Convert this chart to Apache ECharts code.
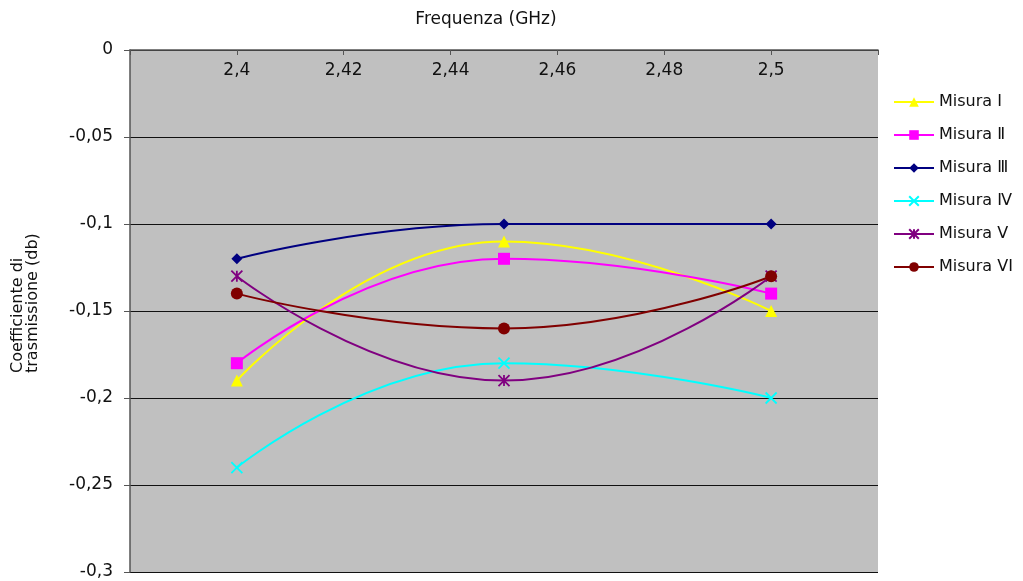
<!DOCTYPE html>
<html>
<head>
<meta charset="utf-8">
<script src="https://cdn.jsdelivr.net/npm/echarts@6/dist/echarts.min.js"></script>
<style>html,body{margin:0;padding:0;background:#fff;}#c{width:1023px;height:581px;}</style>
</head>
<body>
<div id="c"></div>
<script>
const freq = [2.4, 2.45, 2.5];
const seriesNames = ['Misura I', 'Misura Ⅱ', 'Misura Ⅲ', 'Misura Ⅳ', 'Misura V', 'Misura VI'];
const misuraI   = [-0.19, -0.11, -0.15];
const misuraII  = [-0.18, -0.12, -0.14];
const misuraIII = [-0.12, -0.10, -0.10];
const misuraIV  = [-0.24, -0.18, -0.20];
const misuraV   = [-0.13, -0.19, -0.13];
const misuraVI  = [-0.14, -0.16, -0.13];
const allValues = [misuraI, misuraII, misuraIII, misuraIV, misuraV, misuraVI];
const xTitle = 'Frequenza (GHz)';
const yTitle = 'Coefficiente di\ntrasmissione (db)';
const colors = ['#FFFF00', '#FF00FF', '#000080', '#00FFFF', '#800080', '#800000'];
const symbols = [
  'triangle', 'rect', 'diamond',
  'path://M0,0 L10,10 M10,0 L0,10',
  'path://M0,0 L10,10 M10,0 L0,10 M5,0 L5,10',
  'circle'
];
const symbolSizes = [12, 12, 11, 11, 11, 12];
const font = 'DejaVu Sans, Verdana, sans-serif';

const chart = echarts.init(document.getElementById('c'));
chart.setOption({
  backgroundColor: '#fff',
  animation: false,
  grid: { left: 130, right: 145, top: 50, bottom: 9, backgroundColor: '#C0C0C0', show: true, borderWidth: 0, outerBoundsMode: 'none', containLabel: false },
  legend: {
    orient: 'vertical', left: 893, top: 94, itemGap: 17, itemWidth: 40, itemHeight: 12, padding: 0,
    data: seriesNames,
    textStyle: { fontFamily: font, fontSize: 16, color: '#111' }
  },
  graphic: [
    {
      type: 'text', x: 486, y: 20,
      style: { text: xTitle, font: '17px ' + font, fill: '#111', align: 'center', verticalAlign: 'middle' }
    },
    {
      type: 'text', x: 25, y: 373, rotation: Math.PI / 2,
      style: { text: yTitle, font: '16px ' + font, lineHeight: 15, fill: '#111', align: 'left', verticalAlign: 'middle' }
    }
  ],
  xAxis: {
    type: 'value', position: 'top', min: 2.38, max: 2.52, interval: 0.02,
    axisLine: { show: true, lineStyle: { color: '#555', width: 1.5 } },
    axisTick: { show: true, inside: true, length: 5, lineStyle: { color: '#555' } },
    axisLabel: {
      inside: true, margin: 12, fontFamily: font, fontSize: 17, color: '#111',
      formatter: function (v) {
        const r = Math.round(v * 100) / 100;
        if (r < 2.395 || r > 2.505) return '';
        return String(r).replace('.', ',');
      }
    },
    splitLine: { show: false }
  },
  yAxis: {
    type: 'value', min: -0.3, max: 0, interval: 0.05,
    axisLine: { show: true, lineStyle: { color: '#555', width: 1.5 } },
    axisTick: { show: true, length: 6, lineStyle: { color: '#555' } },
    axisLabel: {
      margin: 17, fontFamily: font, fontSize: 17, color: '#111',
      formatter: function (v) { return String(Math.round(v * 100) / 100).replace('.', ','); }
    },
    splitLine: { show: true, lineStyle: { color: '#111', width: 1 } }
  },
  series: seriesNames.map(function (n, i) {
    const isStroke = i === 3 || i === 4;
    return {
      name: n, type: 'line', smooth: 0.5,
      data: freq.map(function (f, j) { return [f, allValues[i][j]]; }),
      symbol: symbols[i], symbolSize: symbolSizes[i],
      lineStyle: { color: colors[i], width: 2 },
      itemStyle: { color: colors[i], borderColor: colors[i], borderWidth: isStroke ? 1.8 : 0 }
    };
  })
});
</script>
</body>
</html>
